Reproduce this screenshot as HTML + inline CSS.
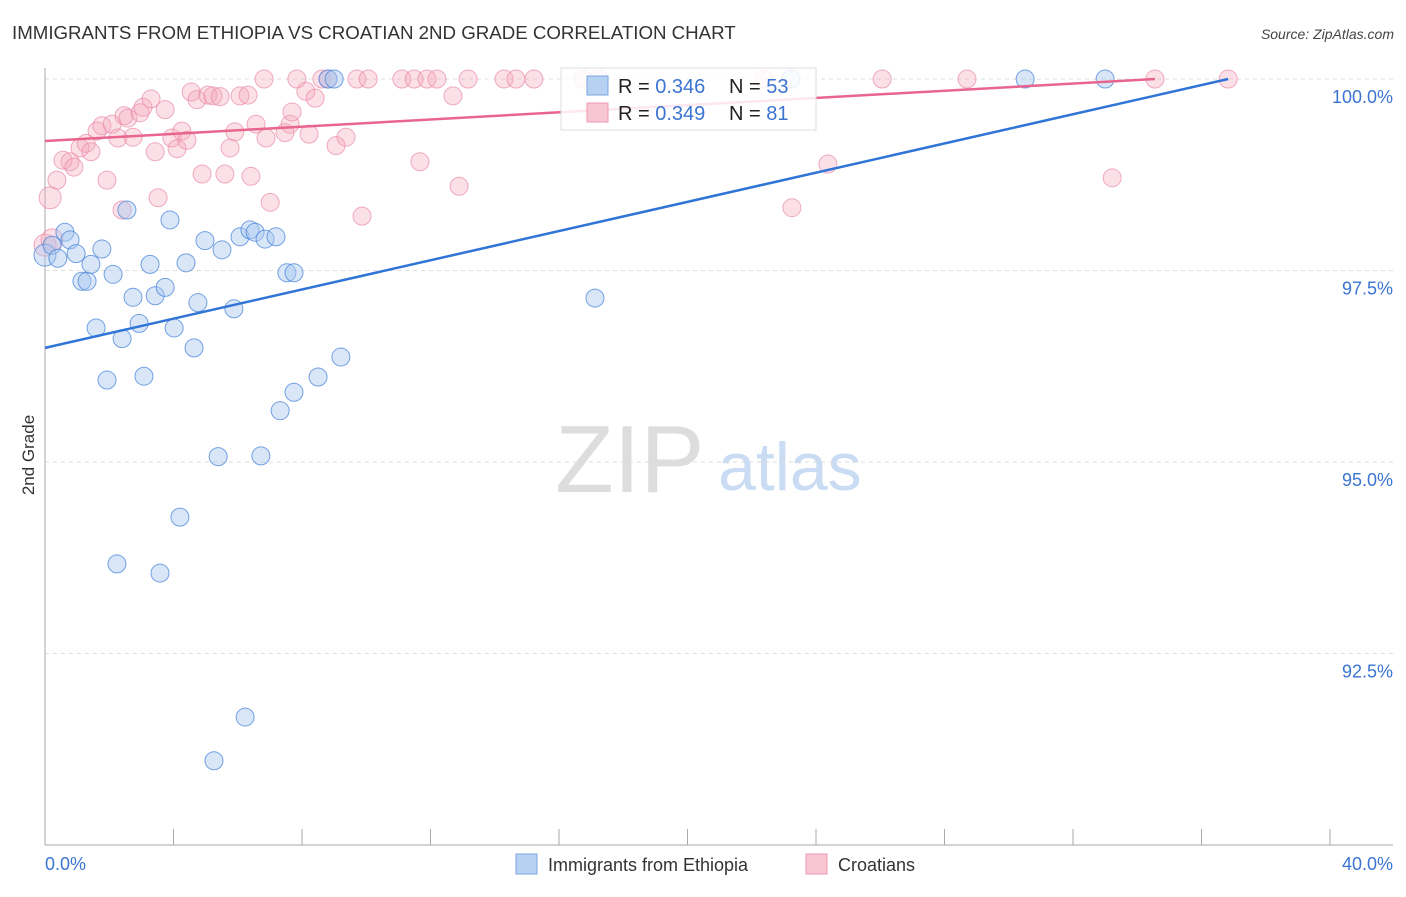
<!DOCTYPE html>
<html><head><meta charset="utf-8">
<style>
body{margin:0;background:#fff;font-family:"Liberation Sans",sans-serif;}
svg text{font-family:"Liberation Sans",sans-serif;}
</style></head>
<body>
<svg id="chart" width="1406" height="892" viewBox="0 0 1406 892" xmlns="http://www.w3.org/2000/svg">
<text x="12" y="39" font-size="18.7" fill="#333">IMMIGRANTS FROM ETHIOPIA VS CROATIAN 2ND GRADE CORRELATION CHART</text>
<text x="1394" y="39" font-size="14" fill="#444" font-style="italic" text-anchor="end">Source: ZipAtlas.com</text>
<text transform="translate(34,455) rotate(-90)" font-size="17" fill="#333" text-anchor="middle">2nd Grade</text>
<g>
<text x="555" y="492" font-size="96" fill="#ddd" font-family="Liberation Serif,serif">ZIP</text>
<text x="718" y="490" font-size="68" fill="#c9dcf3">atlas</text>
</g>
<g id="grid"></g>
<g id="axes"></g>
<g id="points"></g>
<g id="trends"></g>
<g>
<rect x="561" y="68" width="255" height="62" fill="#fff" fill-opacity="0.85" stroke="#ddd"/>
<rect x="587" y="76" width="21" height="19" fill="#b7d1f3" stroke="#7aa6e0"/>
<text x="618" y="93" font-size="20" fill="#222">R = <tspan fill="#3b74d1">0.346</tspan></text>
<text x="729" y="93" font-size="20" fill="#222">N = <tspan fill="#3b74d1">53</tspan></text>
<rect x="587" y="103" width="21" height="19" fill="#f8c5d3" stroke="#ec9ab2"/>
<text x="618" y="120" font-size="20" fill="#222">R = <tspan fill="#3b74d1">0.349</tspan></text>
<text x="729" y="120" font-size="20" fill="#222">N = <tspan fill="#3b74d1"> 81</tspan></text>
</g>
<g>
<rect x="516" y="854" width="21" height="20" fill="#b7d1f3" stroke="#7aa6e0"/>
<text x="548" y="871" font-size="18" fill="#333">Immigrants from Ethiopia</text>
<rect x="806" y="854" width="21" height="20" fill="#f8c5d3" stroke="#ec9ab2"/>
<text x="838" y="871" font-size="18" fill="#333">Croatians</text>
</g>
</svg>
<script>
const xTicks=[0,4,8,12,16,20,24,28,32,36,40];
const xTickLabels=["0.0%","40.0%"];
const yTicks=[100,97.5,95,92.5];
const yTickLabels=["100.0%","97.5%","95.0%","92.5%"];
const ethX=[0,0.22,0.40,0.62,0.78,0.97,1.15,1.31,1.43,1.59,1.77,1.93,2.12,2.24,2.40,2.55,2.74,2.93,3.08,3.27,3.43,3.58,3.74,3.89,4.02,4.20,4.39,4.64,4.76,4.98,5.39,5.51,5.88,6.07,6.23,6.38,6.54,6.72,6.85,7.19,7.32,5.26,7.53,7.75,7.75,8.50,8.81,9.00,9.21,17.12,30.51,33.0,23.22];
const ethY=[97.70,97.83,97.66,98.00,97.90,97.72,97.36,97.36,97.58,96.75,97.78,96.07,97.45,93.67,96.61,98.29,97.15,96.81,96.12,97.58,97.17,93.55,97.28,98.16,96.75,94.28,97.60,96.49,97.08,97.89,95.07,97.77,97.00,97.94,91.67,98.03,98.00,95.08,97.91,97.94,95.67,91.10,97.47,95.91,97.47,96.11,100,100,96.37,97.14,100,100,100];
const croX=[0,0.16,0.37,0.56,0.78,0.90,1.09,1.28,1.43,1.62,1.77,1.93,2.09,2.27,2.40,2.46,2.58,2.74,2.96,3.05,3.30,3.43,3.52,3.74,3.95,4.11,4.26,4.42,4.55,4.73,4.89,5.07,5.23,5.45,5.60,5.76,5.91,6.07,6.32,6.41,6.57,6.82,6.88,7.01,7.47,7.63,7.69,7.84,8.12,8.22,8.41,8.62,8.81,9.06,9.37,9.71,9.87,10.06,11.11,11.49,11.67,11.89,12.20,12.70,12.89,13.17,14.29,14.66,15.22,16.75,17.25,22.38,23.25,24.37,26.06,28.70,33.22,34.55,36.83,0.22];
const croY=[97.83,98.45,98.68,98.94,98.92,98.85,99.10,99.16,99.05,99.32,99.39,98.68,99.41,99.23,98.29,99.52,99.49,99.24,99.56,99.63,99.74,99.05,98.45,99.60,99.23,99.09,99.32,99.20,99.83,99.73,98.76,99.79,99.78,99.77,98.76,99.10,99.31,99.78,99.79,98.73,99.41,100,99.23,98.39,99.30,99.41,99.57,100,99.84,99.28,99.75,100,100,99.13,99.24,100,98.21,100,100,100,98.92,100,100,99.78,98.60,100,100,100,100,100,100,100,98.32,98.89,100,100,98.71,100,100,97.90];
const ethTrendX=[0,36.83];
const ethTrendY=[96.49,100];
const croTrendX=[0,34.55];
const croTrendY=[99.19,100];

const X0=45,X1=1330,Y0=79,Y1=845;
const xs=v=>X0+(v-0)/(40-0)*(X1-X0);
const ys=v=>Y0+(100-v)/(100-90)*(Y1-Y0);
const NS="http://www.w3.org/2000/svg";
function mk(tag,attrs,parent){const e=document.createElementNS(NS,tag);for(const k in attrs)e.setAttribute(k,attrs[k]);parent.appendChild(e);return e;}
const grid=document.getElementById('grid'),axes=document.getElementById('axes'),pts=document.getElementById('points'),tr=document.getElementById('trends');
yTicks.forEach((t,i)=>{
  const l=mk('line',{x1:X0,x2:1393,y1:ys(t),y2:ys(t),stroke:'#ddd','stroke-dasharray':'4,4'},grid);
  
  
  const tx=mk('text',{x:1393,y:ys(t)+24,'font-size':18,fill:'#3b74d1','text-anchor':'end'},axes);
  tx.textContent=yTickLabels[i];
  
  
});
const ya=mk('line',{x1:X0,x2:X0,y1:68,y2:Y1,stroke:'#aaa'},axes);


const xa=mk('line',{x1:X0,x2:1393,y1:Y1,y2:Y1,stroke:'#aaa'},axes);


xTicks.forEach(t=>{
  const l=mk('line',{x1:xs(t),x2:xs(t),y1:Y1,y2:Y1-16,stroke:'#aaa'},axes);
  
  
});
[[0,'start',45],[40,'end',1393]].forEach((a,i)=>{
  const tx=mk('text',{x:a[2],y:870,'font-size':18,fill:'#3b74d1','text-anchor':a[1]},axes);
  tx.textContent=xTickLabels[i];
  
  
});
croX.forEach((x,i)=>{
  const r=(x<0.3)?11:9;
  const c=mk('circle',{cx:xs(x),cy:ys(croY[i]),r:r,fill:'#f4a6bd','fill-opacity':0.35,stroke:'#e98aa8','stroke-opacity':0.7},pts);
  
  
});
ethX.forEach((x,i)=>{
  const r=(x<0.1)?11:9;
  const c=mk('circle',{cx:xs(x),cy:ys(ethY[i]),r:r,fill:'#a8c8f0','fill-opacity':0.45,stroke:'#4a86d8','stroke-opacity':0.75},pts);
  
  
});
const t1=mk('line',{x1:xs(croTrendX[0]),y1:ys(croTrendY[0]),x2:xs(croTrendX[1]),y2:ys(croTrendY[1]),stroke:'#e8658e','stroke-width':2.5},tr);


const t2=mk('line',{x1:xs(ethTrendX[0]),y1:ys(ethTrendY[0]),x2:xs(ethTrendX[1]),y2:ys(ethTrendY[1]),stroke:'#2f74d6','stroke-width':2.5},tr);


</script>
</body></html>
